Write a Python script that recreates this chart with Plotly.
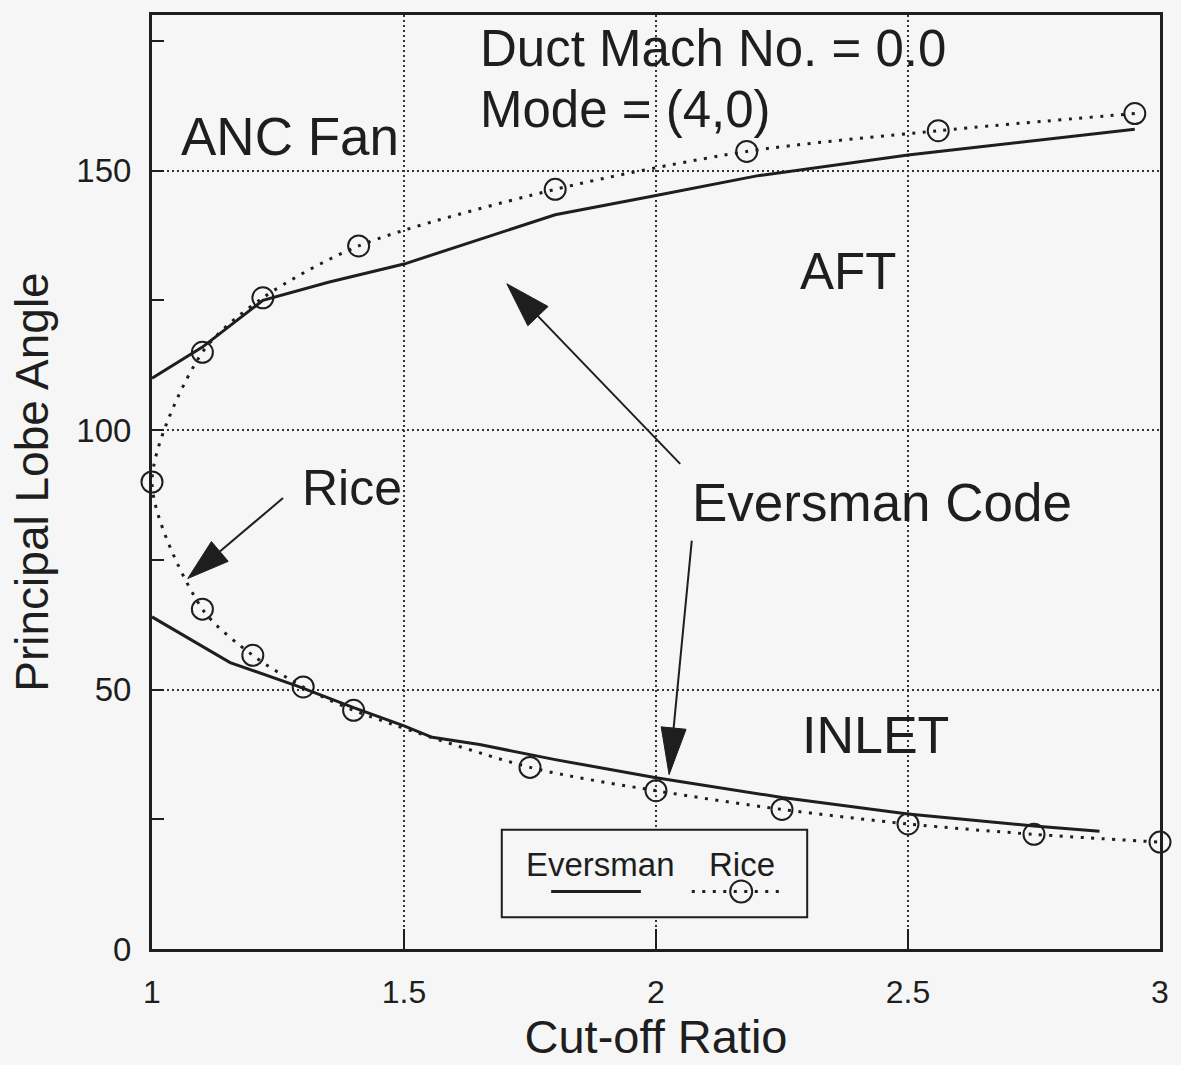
import plotly.graph_objects as go

# ---------------- data ----------------
evers_up_x = [1.0, 1.1, 1.22, 1.35, 1.5, 1.65, 1.8, 2.0, 2.2, 2.5, 2.75, 2.95]
evers_up_y = [110, 116, 125, 128.5, 132, 136.8, 141.5, 145.2, 149, 153, 155.8, 158]

evers_lo_x = [1.0, 1.155, 1.29, 1.4, 1.5, 1.556, 1.65, 1.8, 2.0, 2.25, 2.5, 2.75, 2.88]
evers_lo_y = [64, 55.2, 50.6, 46.5, 43, 40.8, 39.4, 36.5, 33, 29.2, 26, 23.7, 22.7]

rice_x = [2.95, 2.56, 2.18, 1.8, 1.41, 1.22, 1.1, 1.0, 1.1, 1.2, 1.3, 1.4, 1.75, 2.0, 2.25, 2.5, 2.75, 3.0]
rice_y = [161, 157.7, 153.7, 146.4, 135.5, 125.5, 115, 90, 65.5, 56.6, 50.5, 46, 35, 30.5, 26.9, 24.1, 22.1, 20.6]

x_ticks = [1, 1.5, 2, 2.5, 3]
x_tick_labels = ["1", "1.5", "2", "2.5", "3"]
y_ticks = [0, 50, 100, 150]
y_tick_labels = ["0", "50", "100", "150"]
y_minor_ticks = [25, 75, 125, 175]

# ---------------- layout geometry ----------------
W, H = 1181, 1065
ML, MR, MT, MB = 152, 21, 12, 115
XR = [1, 3]
YR = [0, 180]
PW = W - ML - MR
PH = H - MT - MB
sx = PW / (XR[1] - XR[0])
sy = PH / (YR[1] - YR[0])

INK = "#1e1e1e"
BG = "#f6f6f6"
FONT = "Liberation Sans, Arial, Helvetica, sans-serif"

fig = go.Figure()

fig.add_trace(go.Scatter(x=evers_up_x, y=evers_up_y, mode="lines",
                         line=dict(color=INK, width=3), showlegend=False, hoverinfo="skip"))
fig.add_trace(go.Scatter(x=evers_lo_x, y=evers_lo_y, mode="lines",
                         line=dict(color=INK, width=3), showlegend=False, hoverinfo="skip"))
fig.add_trace(go.Scatter(x=rice_x, y=rice_y, mode="lines+markers",
                         line=dict(color=INK, width=3, dash="3px,7.5px", shape="spline", smoothing=0.8),
                         marker=dict(symbol="circle-open", size=21, color=INK, line=dict(width=2, color=INK)),
                         cliponaxis=False, showlegend=False, hoverinfo="skip"))

shapes = []


def arrow(tail, tip, hl, hw):
    # tail/tip in data coords; head length/width in pixels
    tx, ty = (tail[0] - XR[0]) * sx, -(tail[1] - YR[0]) * sy
    px, py = (tip[0] - XR[0]) * sx, -(tip[1] - YR[0]) * sy
    dx, dy = px - tx, py - ty
    L = (dx * dx + dy * dy) ** 0.5
    ux, uy = dx / L, dy / L
    bx, by = px - ux * hl, py - uy * hl
    nx, ny = -uy, ux

    def d(xp, yp):
        return (xp / sx + XR[0], -yp / sy + YR[0])
    b = d(bx, by)
    p1 = d(bx + nx * hw / 2, by + ny * hw / 2)
    p2 = d(bx - nx * hw / 2, by - ny * hw / 2)
    shapes.append(dict(type="line", xref="x", yref="y", x0=tail[0], y0=tail[1], x1=b[0], y1=b[1],
                       line=dict(color=INK, width=2)))
    shapes.append(dict(type="path", xref="x", yref="y",
                       path=f"M {tip[0]},{tip[1]} L {p1[0]},{p1[1]} L {p2[0]},{p2[1]} Z",
                       fillcolor=INK, line=dict(color=INK, width=1)))


arrow((1.260, 86.9), (1.071, 71.4), 42, 26)
arrow((2.048, 93.5), (1.704, 128.2), 45, 28)
arrow((2.071, 78.7), (2.026, 33.6), 47, 25)

# custom legend box
shapes.append(dict(type="rect", xref="x", yref="y", x0=1.694, x1=2.300, y0=6.1, y1=23.0,
                   line=dict(color=INK, width=2), fillcolor=BG))
shapes.append(dict(type="line", xref="x", yref="y", x0=1.792, x1=1.970, y0=11.1, y1=11.1,
                   line=dict(color=INK, width=3)))
shapes.append(dict(type="line", xref="x", yref="y", x0=2.071, x1=2.248, y0=11.1, y1=11.1,
                   line=dict(color=INK, width=3, dash="3px,7.5px")))
shapes.append(dict(type="circle", xref="x", yref="y", xsizemode="pixel", ysizemode="pixel",
                   xanchor=2.169, yanchor=11.1, x0=-11, x1=11, y0=-11, y1=11,
                   line=dict(color=INK, width=2)))

annotations = []


def txt(s, x, y, size, xanchor="center"):
    annotations.append(dict(text=s, x=x, y=y, xref="x", yref="y", showarrow=False,
                            xanchor=xanchor, yanchor="middle",
                            font=dict(family=FONT, size=size, color=INK)))


txt("ANC Fan", 1.274, 156.6, 53)
txt("Duct Mach No. = 0.0", 1.647, 173.5, 51, xanchor="left")
txt("Mode = (4,0)", 1.647, 161.8, 51, xanchor="left")
txt("AFT", 2.381, 130.5, 51)
txt("Rice", 1.397, 88.8, 50)
txt("Eversman Code", 2.448, 86.0, 53)
txt("INLET", 2.435, 41.2, 52)
txt("Eversman", 1.889, 16.3, 33)
txt("Rice", 2.171, 16.3, 33)

fig.update_layout(
    width=W, height=H,
    margin=dict(l=ML, r=MR, t=MT, b=MB, pad=0),
    paper_bgcolor=BG, plot_bgcolor=BG,
    font=dict(family=FONT, color=INK),
    shapes=shapes, annotations=annotations,
    showlegend=False,
)

fig.update_xaxes(
    range=XR, tickvals=x_ticks, ticktext=x_tick_labels,
    showline=True, linecolor=INK, linewidth=3, mirror=True,
    ticks="inside", ticklen=20, tickwidth=2, tickcolor=INK,
    showgrid=True, gridcolor="#333333", gridwidth=1.5, griddash="2px,3px",
    zeroline=False, tickfont=dict(size=32, family=FONT, color=INK),
    ticklabelstandoff=13,
    title=dict(text="Cut-off Ratio", font=dict(size=47, family=FONT, color=INK), standoff=10),
)
fig.update_yaxes(
    range=YR, tickvals=y_ticks, ticktext=y_tick_labels,
    showline=True, linecolor=INK, linewidth=3, mirror=True,
    ticks="inside", ticklen=12, tickwidth=2, tickcolor=INK,
    minor=dict(tickvals=y_minor_ticks, ticks="inside", ticklen=12, tickwidth=2,
               tickcolor=INK, showgrid=False),
    showgrid=True, gridcolor="#333333", gridwidth=1.5, griddash="2px,3px",
    zeroline=False, tickfont=dict(size=33, family=FONT, color=INK),
    ticklabelstandoff=11,
    title=dict(text="Principal Lobe Angle", font=dict(size=46, family=FONT, color=INK), standoff=14),
)

fig.write_html("out.html")
